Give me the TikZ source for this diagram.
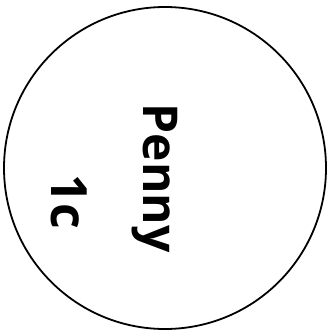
\documentclass[tikz,border=0pt]{standalone}
\usepackage{fontspec}
\setsansfont{Open Sans}
\usetikzlibrary{positioning}

\begin{document}
\begin{tikzpicture}[
        x=1pt, y=1pt,
        coin/.style={circle, draw, line width=1.8pt, minimum size=322pt, inner sep=0pt},
        cointext/.style={font=\sffamily\bfseries\fontsize{48}{48}\selectfont, rotate=-90, inner sep=0pt, anchor=base}
    ]
        \useasboundingbox (0,0) rectangle (331,330);

        % Coin outline
        \node [coin] (penny) at (165,162) {};

        % Texts
        \node [cointext] (name) at (143,152) {Penny};
        \node [cointext, font=\sffamily\bfseries\fontsize{50}{50}\selectfont] (value) at (51,128) {1c};

    \end{tikzpicture}
\end{document}
